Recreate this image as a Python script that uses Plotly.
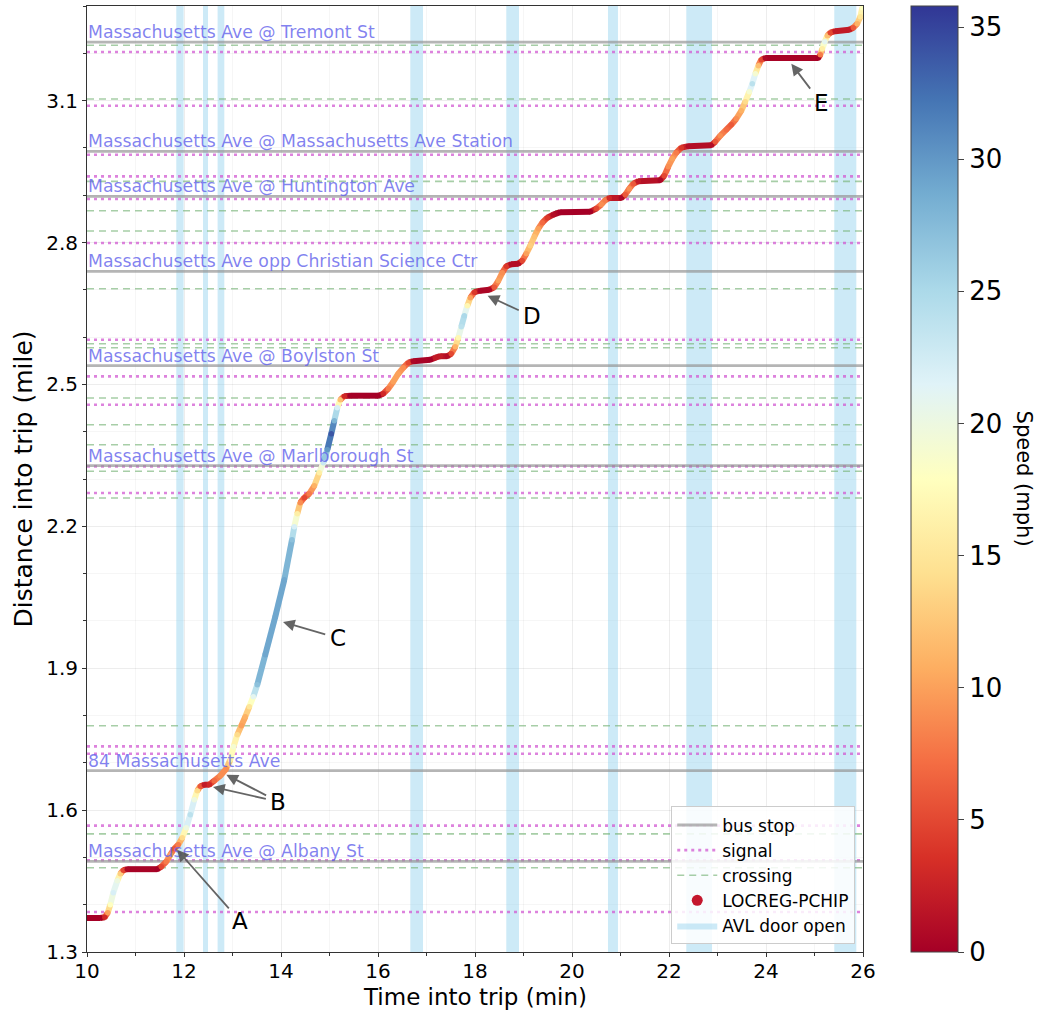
import plotly.graph_objects as go
from plotly.colors import sample_colorscale

# ---- route features (distance into trip, miles) ----
STOP_NAMES = [
    "Massachusetts Ave @ Tremont St",
    "Massachusetts Ave @ Massachusetts Ave Station",
    "Massachusetts Ave @ Huntington Ave",
    "Massachusetts Ave opp Christian Science Ctr",
    "Massachusetts Ave @ Boylston St",
    "Massachusetts Ave @ Marlborough St",
    "84 Massachusetts Ave",
    "Massachusetts Ave @ Albany St",
]
STOP_DIST = [3.2235, 2.9926, 2.8975, 2.7389, 2.5395, 2.3281, 1.6833, 1.4915]

SIGNAL_DIST = [3.2027, 3.0892, 2.9856, 2.9397, 2.8920, 2.7990, 2.5945, 2.5169,
               2.4571, 2.3266, 2.2704, 1.7347, 1.7192, 1.5672, 1.4941, 1.3846]

CROSSING_DIST = [3.2171, 3.1034, 2.9292, 2.8672, 2.8243, 2.7023, 2.5860, 2.5776,
                 2.4712, 2.4148, 2.3725, 2.3165, 2.2598, 1.7784, 1.5497, 1.4782]

# ---- AVL door-open intervals (minutes into trip) ----
DOOR_OPEN_START = [11.841, 12.392, 12.693, 16.666, 18.645, 20.742, 22.357, 25.408]
DOOR_OPEN_END = [11.992, 12.495, 12.831, 16.928, 18.907, 20.948, 22.887, 25.862]

# ---- LOCREG-PCHIP trajectory ----
TIME_MIN = [
    10.000, 10.274, 10.367, 10.429, 10.480, 10.542, 10.625, 10.687, 10.748, 10.831,
    11.449, 11.532, 11.635, 11.718, 11.800, 11.882, 11.965, 12.047, 12.130, 12.212,
    12.274, 12.336, 12.419, 12.522, 12.625, 12.749, 12.872, 12.955, 13.023, 13.099,
    13.182, 13.264, 13.347, 13.429, 13.511, 13.676, 13.882, 14.068, 14.227, 14.274,
    14.336, 14.398, 14.480, 14.584, 14.687, 14.790, 14.872, 14.955, 15.037, 15.099,
    15.161, 15.223, 15.305, 15.429, 16.006, 16.109, 16.212, 16.315, 16.419, 16.522,
    16.625, 16.728, 17.079, 17.182, 17.285, 17.429, 17.511, 17.594, 17.656, 17.718,
    17.780, 17.842, 17.903, 17.986, 18.109, 18.295, 18.398, 18.481, 18.563, 18.645,
    18.748, 18.893, 18.975, 19.058, 19.140, 19.223, 19.305, 19.388, 19.491, 19.614,
    19.759, 20.378, 20.501, 20.604, 20.687, 20.769, 21.017, 21.099, 21.181, 21.264,
    21.367, 21.820, 21.903, 21.985, 22.068, 22.150, 22.253, 22.398, 22.872, 22.955,
    23.058, 23.182, 23.285, 23.388, 23.491, 23.573, 23.656, 23.718, 23.780, 23.842,
    23.903, 23.986, 25.079, 25.120, 25.161, 25.213, 25.264, 25.326, 25.429, 25.718,
    25.801, 25.883, 25.945, 25.986,
]
DIST_MILE = [
    1.3719, 1.3719, 1.3736, 1.3831, 1.4000, 1.4254, 1.4507, 1.4655, 1.4729, 1.4751,
    1.4751, 1.4803, 1.4909, 1.5057, 1.5184, 1.5268, 1.5416, 1.5628, 1.5903, 1.6220,
    1.6410, 1.6505, 1.6537, 1.6537, 1.6622, 1.6727, 1.6875, 1.7066, 1.7340, 1.7594,
    1.7784, 1.7975, 1.8186, 1.8397, 1.8651, 1.9285, 2.0089, 2.0871, 2.1717, 2.1992,
    2.2266, 2.2499, 2.2605, 2.2689, 2.2858, 2.3133, 2.3344, 2.3619, 2.3957, 2.4232,
    2.4507, 2.4676, 2.4752, 2.4761, 2.4761, 2.4803, 2.4909, 2.5057, 2.5226, 2.5353,
    2.5459, 2.5490, 2.5522, 2.5564, 2.5596, 2.5596, 2.5649, 2.5797, 2.5987, 2.6220,
    2.6452, 2.6664, 2.6833, 2.6949, 2.6981, 2.7002, 2.7055, 2.7192, 2.7362, 2.7499,
    2.7542, 2.7552, 2.7616, 2.7764, 2.7933, 2.8123, 2.8292, 2.8419, 2.8524, 2.8588,
    2.8641, 2.8651, 2.8717, 2.8801, 2.8897, 2.8939, 2.8940, 2.9011, 2.9138, 2.9243,
    2.9296, 2.9318, 2.9413, 2.9603, 2.9772, 2.9899, 3.0005, 3.0036, 3.0057, 3.0131,
    3.0258, 3.0385, 3.0490, 3.0617, 3.0786, 3.0977, 3.1188, 3.1357, 3.1569, 3.1738,
    3.1865, 3.1901, 3.1901, 3.1970, 3.2097, 3.2245, 3.2372, 3.2436, 3.2467, 3.2499,
    3.2541, 3.2626, 3.2774, 3.2964,
]
SPEED_MPH = [
    0, 0, 3, 10, 18, 22, 20, 13, 5, 0.5,
    0, 5, 8, 10, 6, 8, 14, 20, 24, 20,
    14, 6, 2, 3, 7, 9, 9, 16, 19, 14,
    10, 11, 15, 21, 27, 29, 29, 29, 27, 22,
    16, 9, 5, 8, 11, 16, 23, 30, 34, 28,
    22, 12, 3, 0, 0, 3, 8, 10, 10, 9,
    5, 0.5, 0, 2, 2, 1, 5, 11, 17, 24,
    25, 17, 10, 4, 0.5, 0.5, 6, 10, 9, 4,
    1, 1, 5, 10, 13, 12, 10, 7, 4, 1,
    0, 0, 5, 9, 8, 3, 0.5, 6, 9, 6,
    2, 0.5, 5, 9, 10, 8, 4, 1, 1, 6,
    9, 7, 6, 9, 11, 14, 19, 24, 19, 12,
    5, 0.5, 0, 8, 16, 21, 12, 5, 2, 2,
    6, 11, 15, 18,
]

# ---- callouts: label, arrow tip (t, d), label position (t, d) ----
CALLOUT_TEXT = ["A", "B", "B", "C", "D", "E"]
CALLOUT_TIP_T = [11.856, 12.872, 12.598, 14.041, 18.260, 24.522]
CALLOUT_TIP_D = [1.5163, 1.6748, 1.6488, 1.9977, 2.6875, 3.1780]
CALLOUT_TXT_T = [13.161, 13.944, 13.944, 15.167, 19.175, 25.134]
CALLOUT_TXT_D = [1.3647, 1.6178, 1.6178, 1.9638, 2.6438, 3.0950]

T_RANGE = [10, 26]
D_RANGE = [1.3, 3.3]
SPEED_MAX = 35.8

RDYLBU = [
    [0.0, "#a50026"], [0.1, "#d73027"], [0.2, "#f46d43"], [0.3, "#fdae61"],
    [0.4, "#fee090"], [0.5, "#ffffbf"], [0.6, "#e0f3f8"], [0.7, "#abd9e9"],
    [0.8, "#74add1"], [0.9, "#4575b4"], [1.0, "#313695"],
]

FONT = "DejaVu Sans"
fig = go.Figure()

# door-open bands
bx, by = [], []
for a, b in zip(DOOR_OPEN_START, DOOR_OPEN_END):
    bx += [a, a, b, b, a, None]
    by += [D_RANGE[0], D_RANGE[1], D_RANGE[1], D_RANGE[0], D_RANGE[0], None]
fig.add_trace(go.Scatter(
    x=bx, y=by, mode="lines", fill="toself",
    fillcolor="rgba(135,206,235,0.42)", line=dict(width=0),
    name="AVL door open", legendrank=5, hoverinfo="skip",
))


def hlines(dists):
    xs, ys = [], []
    for d in dists:
        xs += [T_RANGE[0], T_RANGE[1], None]
        ys += [d, d, None]
    return xs, ys


cx, cy = hlines(CROSSING_DIST)
fig.add_trace(go.Scatter(
    x=cx, y=cy, mode="lines", name="crossing", legendrank=3,
    line=dict(color="rgba(120,180,120,0.65)", width=1.6, dash="7px,5px"),
    hoverinfo="skip",
))
sx, sy = hlines(SIGNAL_DIST)
fig.add_trace(go.Scatter(
    x=sx, y=sy, mode="lines", name="signal", legendrank=2,
    line=dict(color="rgba(210,90,210,0.75)", width=2.6, dash="3px,4px"),
    hoverinfo="skip",
))
px_, py_ = hlines(STOP_DIST)
fig.add_trace(go.Scatter(
    x=px_, y=py_, mode="lines", name="bus stop", legendrank=1,
    line=dict(color="rgba(150,150,150,0.7)", width=2.8),
    hoverinfo="skip",
))

# trajectory segments coloured by speed
groups = {}
for i in range(len(TIME_MIN) - 1):
    v = 0.5 * (SPEED_MPH[i] + SPEED_MPH[i + 1])
    col = sample_colorscale(RDYLBU, [min(v / SPEED_MAX, 1.0)])[0]
    g = groups.setdefault(col, ([], []))
    g[0].extend([TIME_MIN[i], TIME_MIN[i + 1], None])
    g[1].extend([DIST_MILE[i], DIST_MILE[i + 1], None])
for col, (gx, gy) in groups.items():
    fig.add_trace(go.Scatter(
        x=gx, y=gy, mode="lines", line=dict(color=col, width=6),
        showlegend=False, hoverinfo="skip",
    ))

fig.add_trace(go.Scatter(
    x=TIME_MIN, y=DIST_MILE, mode="markers", showlegend=False,
    marker=dict(
        size=5.5, color=SPEED_MPH, colorscale=RDYLBU, cmin=0, cmax=SPEED_MAX,
        line=dict(width=0),
        showscale=True,
        colorbar=dict(
            x=1.062, xanchor="left", y=0.5, yanchor="middle",
            len=1.0, lenmode="fraction", thickness=47, xpad=0, ypad=0,
            outlinewidth=1, outlinecolor="#444",
            tickvals=[0, 5, 10, 15, 20, 25, 30, 35],
            ticks="outside", ticklen=6, tickcolor="#444",
            tickfont=dict(family=FONT, size=26, color="black"),
        ),
    ),
))

# legend entry for the trajectory
fig.add_trace(go.Scatter(
    x=[None], y=[None], mode="markers", name="LOCREG-PCHIP", legendrank=4,
    marker=dict(size=11, color="#c4172d"),
))

annotations = []
for name, d in zip(STOP_NAMES, STOP_DIST):
    annotations.append(dict(
        x=T_RANGE[0], y=d, xref="x", yref="y", xanchor="left", yanchor="bottom",
        text=name, showarrow=False, borderpad=0, yshift=-1,
        font=dict(family=FONT, size=17.3, color="rgba(95,95,235,0.78)"),
    ))

for k, (lab, tt, td, lt, ld) in enumerate(zip(CALLOUT_TEXT, CALLOUT_TIP_T, CALLOUT_TIP_D,
                                             CALLOUT_TXT_T, CALLOUT_TXT_D)):
    dup = k > 0 and CALLOUT_TEXT[k - 1] == lab
    annotations.append(dict(
        x=tt, y=td, xref="x", yref="y", ax=lt, ay=ld, axref="x", ayref="y",
        text=lab, showarrow=True, arrowhead=2, arrowsize=1.3, arrowwidth=1.8,
        arrowcolor="rgba(85,85,85,0.9)", startstandoff=3,
        font=dict(family=FONT, size=23, color="rgba(0,0,0,0)" if dup else "black"),
    ))

# colour bar title and x-axis title
annotations.append(dict(
    x=1.208, y=0.5, xref="paper", yref="paper", text="Speed (mph)",
    xanchor="center", yanchor="middle",
    showarrow=False, textangle=90,
    font=dict(family=FONT, size=21, color="black"),
))
annotations.append(dict(
    x=0.5, y=-0.0621, xref="paper", yref="paper", text="Time into trip (min)",
    xanchor="center", yanchor="bottom", showarrow=False, borderpad=0,
    font=dict(family=FONT, size=23, color="black"),
))

axis_common = dict(
    showline=True, linecolor="#333", linewidth=1, mirror=True,
    ticks="outside", ticklen=4, tickcolor="#333", automargin=False,
    showgrid=True, gridcolor="rgba(0,0,0,0.07)", zeroline=False,
    tickfont=dict(family=FONT, size=20, color="black"),
)

fig.update_layout(
    width=1043, height=1011,
    margin=dict(l=87, r=180, t=6, b=59),
    paper_bgcolor="white", plot_bgcolor="white",
    font=dict(family=FONT, color="black"),
    xaxis=dict(
        range=T_RANGE, tick0=10, dtick=2, ticklabelstandoff=-3,
        minor=dict(dtick=1, showgrid=True, gridcolor="rgba(0,0,0,0.035)",
                   ticks="outside", ticklen=3, tickcolor="#333"),
        **axis_common,
    ),
    yaxis=dict(
        range=D_RANGE, tick0=1.3, dtick=0.3, tickformat=".1f",
        minor=dict(tick0=1.3, dtick=0.1, showgrid=True, gridcolor="rgba(0,0,0,0.035)",
                   ticks="outside", ticklen=3, tickcolor="#333"),
        title=dict(text="Distance into trip (mile)", font=dict(family=FONT, size=25), standoff=6),
        **axis_common,
    ),
    legend=dict(
        x=0.99, y=0.008, xanchor="right", yanchor="bottom",
        bgcolor="rgba(255,255,255,0.85)", bordercolor="#ccc", borderwidth=1,
        font=dict(family=FONT, size=17), traceorder="normal",
        itemwidth=40,
    ),
    annotations=annotations,
    showlegend=True,
)

fig.write_html("out.html")
